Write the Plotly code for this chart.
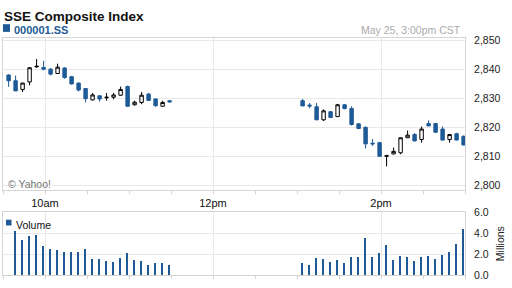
import plotly.graph_objects as go

# ---------------- data ----------------
day = "2012-05-25 "
times_am = ["09:34", "09:39", "09:44", "09:49", "09:54", "09:59", "10:04", "10:09",
            "10:14", "10:19", "10:24", "10:29", "10:34", "10:39", "10:44", "10:49",
            "10:54", "10:59", "11:04", "11:09", "11:14", "11:19", "11:24", "11:29"]
times_pm = ["13:04", "13:09", "13:14", "13:19", "13:24", "13:29", "13:34", "13:39",
            "13:44", "13:49", "13:54", "13:59", "14:04", "14:09", "14:14", "14:19",
            "14:24", "14:29", "14:34", "14:39", "14:44", "14:49", "14:54", "14:59"]

open_am = [2838.1, 2836.1, 2833.1, 2835.7, 2840.9, 2840.7, 2840.1, 2838.6, 2840.5, 2837.5, 2835.3, 2833.4,
           2829.5, 2830.9, 2830.2, 2830.4, 2831.1, 2834.1, 2827.8, 2828.6, 2831.5, 2829.8, 2827.3, 2829.2]
high_am = [2838.3, 2837.9, 2835.4, 2840.7, 2843.6, 2843.0, 2840.5, 2842.0, 2840.8, 2837.8, 2835.5, 2833.6,
           2831.9, 2831.0, 2831.9, 2831.9, 2834.1, 2834.4, 2829.2, 2832.2, 2831.9, 2830.0, 2829.2, 2829.4]
low_am = [2834.0, 2832.5, 2832.2, 2834.5, 2840.6, 2839.7, 2837.9, 2838.5, 2836.8, 2834.8, 2832.4, 2828.6,
          2829.3, 2828.9, 2829.2, 2829.7, 2830.9, 2827.2, 2827.5, 2828.0, 2829.2, 2827.1, 2827.1, 2828.6]
close_am = [2836.1, 2832.6, 2835.3, 2840.6, 2841.1, 2840.1, 2838.4, 2840.8, 2837.2, 2835.0, 2832.9, 2829.9,
            2831.2, 2829.8, 2830.4, 2831.2, 2833.1, 2827.3, 2828.7, 2831.1, 2829.3, 2827.5, 2828.6, 2828.8]

open_pm = [2829.2, 2827.7, 2827.1, 2822.6, 2825.4, 2823.7, 2827.8, 2826.5, 2821.2, 2820.0, 2814.5, 2814.7,
           2810.0, 2810.8, 2811.2, 2816.4, 2817.5, 2815.8, 2821.3, 2821.3, 2819.4, 2815.8, 2817.8, 2816.9]
high_pm = [2829.8, 2828.4, 2828.4, 2826.2, 2825.6, 2828.1, 2828.1, 2827.3, 2821.4, 2820.3, 2816.0, 2815.0,
           2810.5, 2813.0, 2816.5, 2818.9, 2818.0, 2820.3, 2822.4, 2821.4, 2820.3, 2817.6, 2818.1, 2817.2]
low_pm = [2827.3, 2826.6, 2822.5, 2822.2, 2823.3, 2823.6, 2826.2, 2820.6, 2819.5, 2812.7, 2813.6, 2809.8,
          2806.5, 2810.7, 2810.7, 2816.3, 2815.2, 2814.7, 2820.4, 2818.2, 2815.5, 2814.7, 2815.5, 2813.8]
close_pm = [2827.4, 2827.4, 2822.6, 2825.7, 2823.4, 2827.8, 2826.5, 2821.0, 2819.6, 2814.3, 2814.3, 2810.0,
            2810.2, 2811.7, 2816.4, 2817.3, 2815.3, 2819.4, 2820.5, 2818.3, 2815.6, 2817.5, 2815.6, 2813.9]

volume_am = [None, 4.18, 3.36, 3.73, 3.82, 2.82, 2.45, 2.36, 2.18, 2.18, 2.18, 2.45,
             1.55, 1.55, 1.36, 1.27, 1.64, 2.09, 1.45, 1.36, 1.00, 1.18, 1.18, 1.00]
volume_pm = [1.18, 1.00, 1.64, 1.55, 1.27, 1.45, 1.18, 1.73, 1.73, 3.55, 1.73, 2.09,
             2.91, 1.45, 1.82, 1.73, 1.36, 1.73, 1.82, 1.55, 1.91, 2.18, 3.00, 4.36]

price_ticks = [2800, 2810, 2820, 2830, 2840, 2850]
volume_ticks = [0, 2, 4, 6]
time_ticks = ["10:00", "12:00", "14:00"]
time_tick_labels = ["10am", "12pm", "2pm"]

# ---------------- figure ----------------
BLUE = "#1f5a96"
GRID = "#e8e8e8"
BORDER = "#d4d4d4"
FONT = "Liberation Sans, Arial, sans-serif"
W, H = 512, 288

x_am = [day + t for t in times_am]
x_pm = [day + t for t in times_pm]
x_all = x_am + x_pm

fig = go.Figure()
fig.add_trace(go.Candlestick(
    x=x_all,
    open=open_am + open_pm, high=high_am + high_pm,
    low=low_am + low_pm, close=close_am + close_pm,
    increasing=dict(line=dict(color="#000000", width=1), fillcolor="#ffffff"),
    decreasing=dict(line=dict(color=BLUE, width=1), fillcolor=BLUE),
    whiskerwidth=0, showlegend=False, hoverinfo="skip",
    xaxis="x", yaxis="y",
))
fig.add_trace(go.Bar(
    x=x_all, y=volume_am + volume_pm,
    marker=dict(color=BLUE, line=dict(width=0)),
    width=55000, showlegend=False, hoverinfo="skip",
    xaxis="x2", yaxis="y2",
))

xd = [3 / W, 465 / W]
xcommon = dict(
    type="date", range=[day + "09:30", day + "15:00"],
    domain=xd, showgrid=True, gridcolor=GRID, gridwidth=1,
    tickvals=[day + t for t in time_ticks],
    showline=True, linecolor=BORDER, mirror=True,
    ticks="outside", ticklen=3, tickcolor=BORDER,
    minor=dict(dtick=30 * 60 * 1000, tick0=day + "09:30", ticks="outside",
               ticklen=3, tickcolor=BORDER, showgrid=False),
    zeroline=False, fixedrange=True,
    rangeslider=dict(visible=False),
)

fig.update_layout(
    width=W, height=H,
    margin=dict(l=0, r=0, t=0, b=0),
    paper_bgcolor="white", plot_bgcolor="white",
    font=dict(family=FONT, size=10.5, color="#222222"),
    showlegend=False,
    bargap=0,
    xaxis=dict(**xcommon, anchor="y",
               ticktext=time_tick_labels, tickfont=dict(size=11, color="#111111")),
    xaxis2=dict(**xcommon, anchor="y2", matches="x", showticklabels=False),
    yaxis=dict(
        domain=[1 - 192 / H, 1 - 33 / H], range=[2798.35, 2851.0],
        side="right", tickvals=price_ticks, tickformat=",d",
        showgrid=True, gridcolor=GRID, showline=True, linecolor=BORDER, mirror=True,
        ticks="", ticklabelstandoff=6, zeroline=False, fixedrange=True,
        tickfont=dict(size=10.5, color="#222222"),
    ),
    yaxis2=dict(
        domain=[1 - 281 / H, 1 - 215 / H], range=[0, 6],
        side="right", tickvals=volume_ticks, tickformat=".1f",
        showgrid=True, gridcolor=GRID, showline=True, linecolor=BORDER, mirror=True,
        ticks="", ticklabelstandoff=6, zeroline=False, fixedrange=True,
        tickfont=dict(size=10.5, color="#222222"),
        title=dict(text="Millions", standoff=8, font=dict(size=10.5, color="#222222")),
    ),
)

ann = [
    dict(text="<b>SSE Composite Index</b>", x=2 / W, y=1 - 1 / H, xanchor="left", yanchor="top",
         font=dict(size=13.5, color="#111111")),
    dict(text="<b>000001.SS</b>", x=12 / W, y=1 - 17 / H, xanchor="left", yanchor="top",
         font=dict(size=11, color=BLUE)),
    dict(text="May 25, 3:00pm CST", x=463 / W, y=1 - 17 / H, xanchor="right", yanchor="top",
         font=dict(size=10.5, color="#aaaaaa")),
    dict(text="© Yahoo!", x=6 / W, y=1 - 177 / H, xanchor="left", yanchor="top",
         font=dict(size=10.5, color="#777777")),
    dict(text="Volume", x=14 / W, y=1 - 220 / H, xanchor="left", yanchor="top",
         font=dict(size=10.5, color="#111111")),
]
for a in ann:
    a.update(xref="paper", yref="paper", showarrow=False)
fig.update_layout(annotations=ann)

fig.update_layout(shapes=[
    dict(type="rect", xref="paper", yref="paper", x0=3 / W, x1=10 / W,
         y0=1 - 27 / H, y1=1 - 19 / H, fillcolor=BLUE, line=dict(width=0)),
    dict(type="rect", xref="paper", yref="paper", x0=6 / W, x1=11.5 / W,
         y0=1 - 229 / H, y1=1 - 223 / H, fillcolor=BLUE, line=dict(width=0)),
])

fig.write_html("out.html")
